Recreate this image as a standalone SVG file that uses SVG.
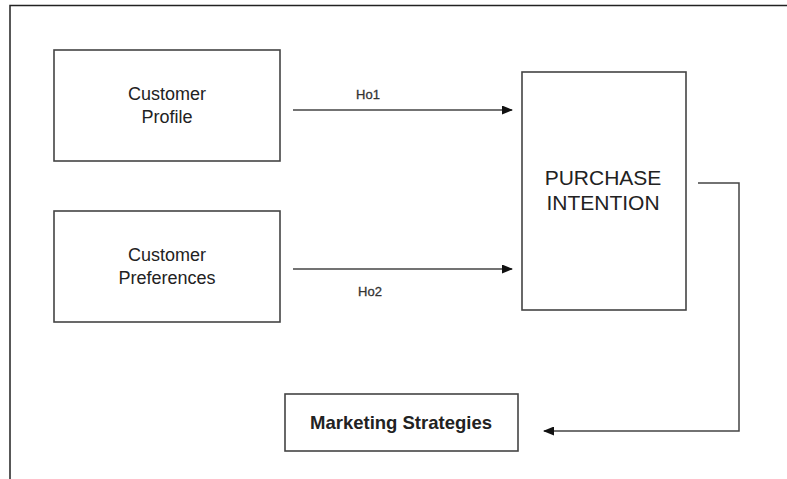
<svg xmlns="http://www.w3.org/2000/svg" width="787" height="479" viewBox="0 0 787 479">
<style>
.box{fill:#fff;stroke:#444;stroke-width:1.6}
.t{font-family:"Liberation Sans",Arial,sans-serif;fill:#222;text-anchor:middle}
.lbl{font-family:"Liberation Sans",Arial,sans-serif;fill:#333;text-anchor:middle;font-size:13px;stroke:#333;stroke-width:0.3}
.c{fill:none;stroke:#444;stroke-width:1.5}
</style>
<defs>
<marker id="ah" markerWidth="11" markerHeight="9" refX="10" refY="4.5" orient="auto" markerUnits="userSpaceOnUse">
<path d="M0,0 L11,4.5 L0,9 Z" fill="#111"/>
</marker>
</defs>
<rect width="787" height="479" fill="#fff"/>
<path d="M10,479 V5.5 H787" fill="none" stroke="#222" stroke-width="1.5"/>
<g id="customer-profile">
<rect class="box" x="54" y="50" width="226" height="111"/>
<text class="t" x="167" y="100" font-size="18">Customer</text>
<text class="t" x="167" y="123" font-size="18">Profile</text>
</g>
<g id="customer-preferences">
<rect class="box" x="54" y="211" width="226" height="111"/>
<text class="t" x="167" y="261" font-size="18">Customer</text>
<text class="t" x="167" y="284" font-size="18">Preferences</text>
</g>
<g id="purchase-intention">
<rect class="box" x="522" y="72" width="164" height="238"/>
<text class="t" x="603" y="185" font-size="21">PURCHASE</text>
<text class="t" x="603" y="210" font-size="21">INTENTION</text>
</g>
<g id="marketing-strategies">
<rect class="box" x="285" y="394" width="233" height="57"/>
<text class="t" x="401" y="429" font-size="18.5" font-weight="bold">Marketing Strategies</text>
</g>
<g id="connectors">
<line class="c" x1="293" y1="110" x2="512" y2="110" marker-end="url(#ah)"/>
<text class="lbl" x="368" y="99">Ho1</text>
<line class="c" x1="293" y1="269" x2="512" y2="269" marker-end="url(#ah)"/>
<text class="lbl" x="370" y="296">Ho2</text>
<path class="c" d="M698,183 H739 V431 H544" marker-end="url(#ah)"/>
</g>
</svg>
